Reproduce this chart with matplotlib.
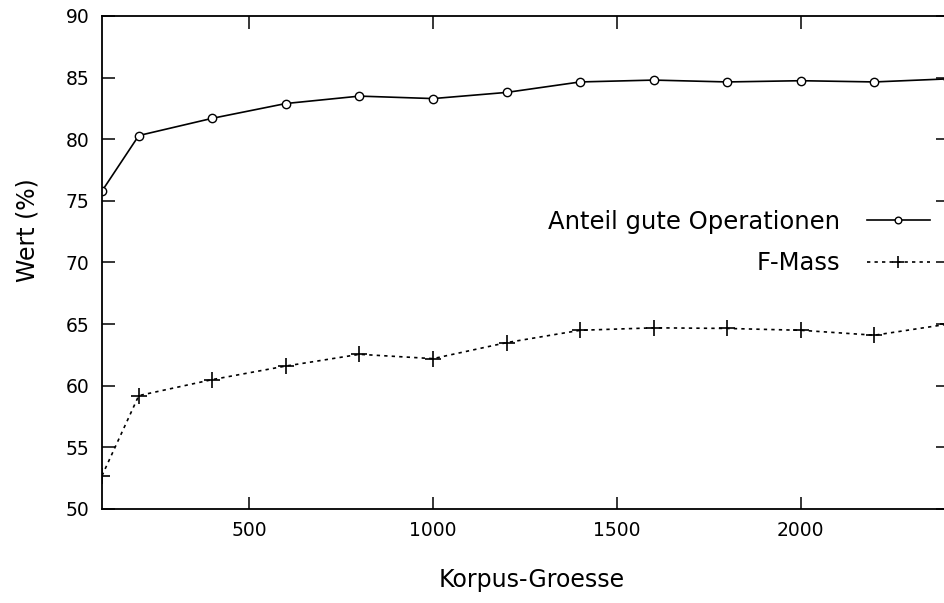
import matplotlib
matplotlib.use("Agg")
import matplotlib.pyplot as plt

corpus_size = [100, 200, 400, 600, 800, 1000, 1200, 1400, 1600, 1800, 2000, 2200, 2400]
anteil_gute = [75.8, 80.3, 81.7, 82.9, 83.5, 83.3, 83.8, 84.65, 84.8, 84.65, 84.75, 84.65, 84.9]
f_mass = [52.7, 59.2, 60.5, 61.6, 62.55, 62.2, 63.5, 64.5, 64.7, 64.65, 64.5, 64.1, 65.0]
x_ticks = [500, 1000, 1500, 2000]
y_ticks = [50, 55, 60, 65, 70, 75, 80, 85, 90]

W, H = 945, 603
fig = plt.figure(figsize=(W / 100, H / 100), dpi=100)
left, right, top, bottom = 102, 948, 16, 509
ax = fig.add_axes([left / W, (H - bottom) / H, (right - left) / W, (bottom - top) / H])

ax.plot(corpus_size, anteil_gute, color="black", lw=1.2, marker="o", ms=6,
        mfc="white", mec="black", mew=1.0, label="Anteil gute Operationen")
ax.plot(corpus_size, f_mass, color="black", lw=1.2, ls=(0, (2, 2.5)), marker="+", ms=11,
        mew=1.2, label="F-Mass")

ax.set_xlim(100, 2400)
ax.set_ylim(50, 90)
ax.set_xticks(x_ticks)
ax.set_yticks(y_ticks)
ax.tick_params(direction="in", length=9, width=1.1, top=True, right=True,
               labelsize=13.5, pad=9)
for s in ax.spines.values():
    s.set_linewidth(1.3)

ax.set_xlabel("Korpus-Groesse", fontsize=17)
ax.xaxis.set_label_coords((532 - left) / (right - left), (bottom - 580) / (bottom - top),
                          transform=ax.transAxes)
ax.xaxis.label.set_va("center")
ax.set_ylabel("Wert (%)", fontsize=17)
ax.yaxis.set_label_coords((28 - left) / (right - left), (bottom - 230) / (bottom - top),
                          transform=ax.transAxes)
ax.yaxis.label.set_va("center")

leg = ax.legend(loc="upper right",
                bbox_to_anchor=((930 - left) / (right - left), (bottom - 210) / (bottom - top)),
                frameon=False, markerfirst=False, fontsize=17.5, handlelength=2.6,
                labelspacing=0.7, handletextpad=1.1, borderpad=0, borderaxespad=0)
for h in leg.legend_handles:
    h.set_markersize(h.get_markersize() * 0.8)

fig.savefig("out.png", dpi=100)
